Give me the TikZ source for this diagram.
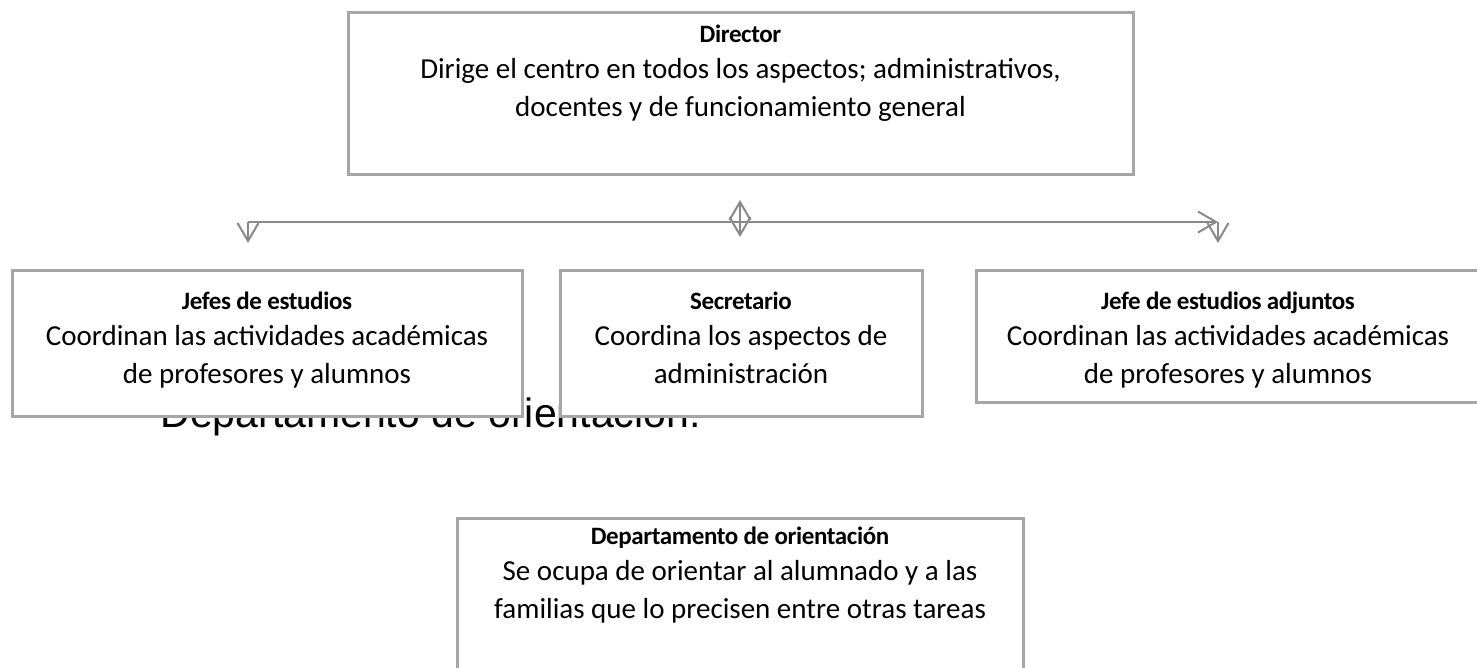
\documentclass[tikz,border=0pt]{standalone}
\usepackage{fontspec}
\setmainfont{Carlito}
\newfontfamily\arialfont{Liberation Sans}
\newfontfamily\headfont[LetterSpace=-1.5]{Carlito}
\usetikzlibrary{arrows.meta,positioning}
\definecolor{boxgray}{RGB}{166,166,166}
\definecolor{linegray}{RGB}{137,137,137}
\tikzset{
  orgbox/.style={draw=boxgray, line width=1.5pt, fill=white},
  orgtext/.style={align=center, inner sep=0pt, font=\fontsize{14.5}{19}\selectfont},
  conn/.style={draw=linegray, line width=1pt},
  barb/.style={-{Straight Barb[length=9pt,width=10.5pt,line width=1pt]}},
  dbarb/.style={{Straight Barb[length=9pt,width=10.5pt,line width=1pt]}-{Straight Barb[length=9pt,width=10.5pt,line width=1pt]}}
}
\newcommand{\boxhead}[1]{{\headfont\bfseries\fontsize{12.5}{17}\selectfont #1}}
\begin{document}
\begin{tikzpicture}[x=0.5pt,y=-0.5pt]
			\useasboundingbox (0,0) rectangle (1477,668);
			\clip (0,0) rectangle (1477,668);
			% stray text behind the boxes
			\node[font=\arialfont\fontsize{20.5}{24}\selectfont, inner sep=0pt, anchor=base west] (stray) at (160,427) {Departamento de orientación.};
			% boxes
			\draw[orgbox] (348,13) rectangle (1133,175);
			\draw[orgbox] (12,271) rectangle (522,416);
			\draw[orgbox] (560,271) rectangle (922,416);
			\draw[orgbox] (976,271) rectangle (1490,402);
			\draw[orgbox] (457,518) rectangle (1023,700);
			% texts
			\node[orgtext, anchor=north] (dir) at (740.5,25) {\boxhead{Director}\\[-1pt]Dirige el centro en todos los aspectos; administrativos,\\docentes y de funcionamiento general};
			\node[orgtext, anchor=north] (jefes) at (267,292) {\boxhead{Jefes de estudios}\\[-1pt]Coordinan las actividades académicas\\de profesores y alumnos};
			\node[orgtext, anchor=north] (secr) at (741,292) {\boxhead{Secretario}\\[-1pt]Coordina los aspectos de\\administración};
			\node[orgtext, anchor=north] (adj) at (1228,292) {\boxhead{Jefe de estudios adjuntos}\\[-1pt]Coordinan las actividades académicas\\de profesores y alumnos};
			\node[orgtext, anchor=north] (orient) at (740,527) {\boxhead{Departamento de orientación}\\[-1pt]Se ocupa de orientar al alumnado y a las\\familias que lo precisen entre otras tareas};
			% connectors
			\coordinate (hubL) at (248,222);
			\coordinate (hubR) at (1218,222);
			\coordinate (tipL) at (248,243);
			\coordinate (tipR) at (1218,243);
			\coordinate (midT) at (740,200);
			\coordinate (midB) at (740,237);
			\draw[conn,barb] (hubL) -- (hubR);
			\draw[conn,barb] (hubL) -- (tipL);
			\draw[conn,barb] (hubR) -- (tipR);
			\draw[conn,dbarb] (midT) -- (midB);
		\end{tikzpicture}
\end{document}
